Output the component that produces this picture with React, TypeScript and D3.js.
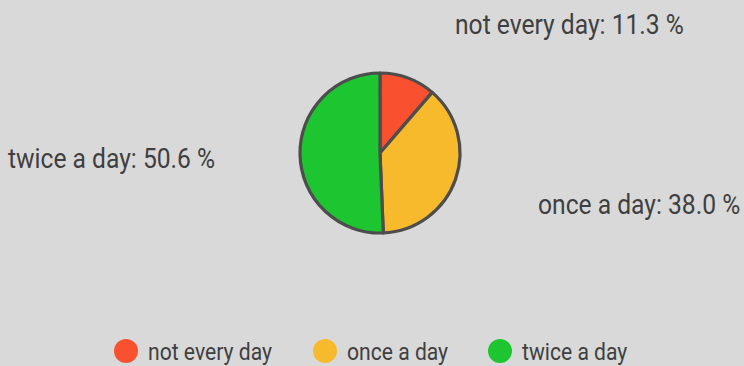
import React, { useEffect } from "react";
import * as d3 from "d3";

const categories = ["not every day", "once a day", "twice a day"];
const values = [11.3, 38.0, 50.6];
const colors = ["#f9512f", "#f8ba2d", "#1dc530"];

const W = 744;
const H = 366;

export default function App() {
  useEffect(() => {
    document.body.style.margin = "0";
    document.body.style.background = "#d9d9d9";
  }, []);

  const cx = 380;
  const cy = 153;
  const r = 80;

  const pie = d3.pie<number>().sort(null).value((d) => d)(values);
  const arc = d3.arc<d3.PieArcDatum<number>>().innerRadius(0).outerRadius(r);

  // label anchors placed outside the pie
  const labelPos = [
    { x: 455, y: 34 },
    { x: 538, y: 214 },
    { x: 8, y: 168 },
  ];

  const legendX = d3.scaleOrdinal<string, number>().domain(categories).range([126, 325, 500]);

  const font = "Roboto, sans-serif";
  const textColor = "#3f3f3f";
  const condensed = { transformBox: "fill-box", transformOrigin: "left", transform: "scaleX(0.88)" } as any;

  return (
    <svg width={W} height={H} style={{ display: "block", background: "#d9d9d9" }}>
      <rect width={W} height={H} fill="#d9d9d9" />
      <g transform={`translate(${cx},${cy})`}>
        {pie.map((d, i) => (
          <path key={i} d={arc(d) || ""} fill={colors[i]} stroke="#4d4d4d" strokeWidth={3.2} strokeLinejoin="round" />
        ))}
      </g>
      {pie.map((d, i) => (
        <text
          key={i}
          x={labelPos[i].x}
          y={labelPos[i].y}
          fontFamily={font}
          fontSize={28}
          fill={textColor}
          style={condensed}
        >
          {`${categories[i]}: ${d.data.toFixed(1)} %`}
        </text>
      ))}
      {categories.map((c, i) => (
        <g key={c} transform={`translate(${legendX(c)},351)`}>
          <circle r={12} fill={colors[i]} />
          <text x={22} y={9} fontFamily={font} fontSize={24} fill={textColor} style={condensed}>
            {c}
          </text>
        </g>
      ))}
    </svg>
  );
}
